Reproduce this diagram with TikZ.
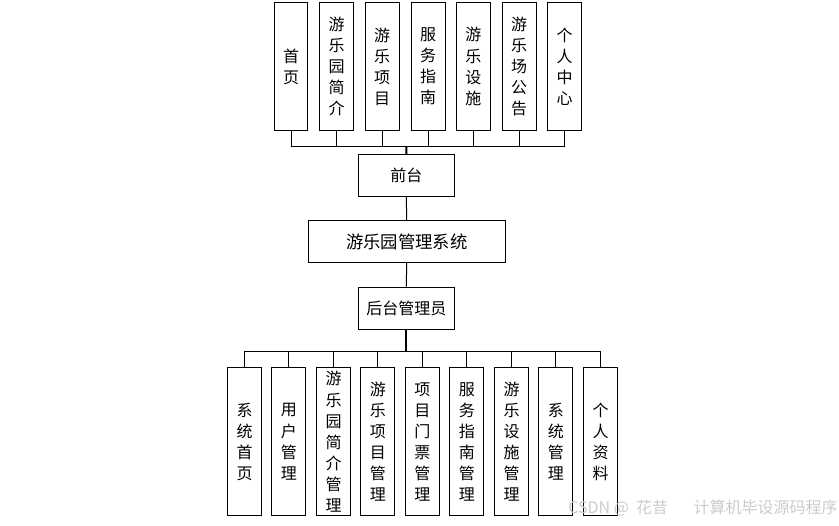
\documentclass[tikz,border=0pt]{standalone}
\usepackage{fontspec}
\setmainfont{Noto Sans CJK SC}
\newfontfamily\cjk{Noto Sans CJK SC}
\begin{document}
\begin{tikzpicture}[x=0.75pt,y=-0.75pt,
  box/.style={draw=black,line width=0.75pt,inner sep=0pt,align=center,
    font=\cjk\fontsize{12}{15.8}\selectfont},
  vbox/.style={box,minimum width=25.3pt,minimum height=95.3pt},
  lbox/.style={box,minimum width=25.7pt,minimum height=111.2pt},
  hbox/.style={box,minimum width=72pt,minimum height=31.6pt},
  conn/.style={draw=black,line width=0.75pt},
  thickconn/.style={draw=black,line width=1.5pt}]
\useasboundingbox (0,0) rectangle (839,525);
\fill[white] (0,0) rectangle (839,525);
% top row
\node[vbox] (t1) at (291,66.5) {首\\页};
\node[vbox] (t2) at (336.7,66.5) {游\\乐\\园\\简\\介};
\node[vbox] (t3) at (382.2,66.5) {游\\乐\\项\\目};
\node[vbox] (t4) at (428.2,66.5) {服\\务\\指\\南};
\node[vbox] (t5) at (473.3,66.5) {游\\乐\\设\\施};
\node[vbox] (t6) at (519.2,66.5) {游\\乐\\场\\公\\告};
\node[vbox] (t7) at (564.7,66.5) {个\\人\\中\\心};
% middle
\node[hbox] (qt) at (406.3,175.5) {前台};
\node[box,minimum width=147.5pt,minimum height=31.5pt,font=\cjk\fontsize{13}{15.8}\selectfont] (sys) at (406.7,241.7) {游乐园管理系统};
\node[hbox] (ht) at (406.3,308.3) {后台管理员};
% bottom row
\node[lbox] (b1) at (244.5,441.8) {系\\统\\首\\页};
\node[lbox] (b2) at (288.8,441.8) {用\\户\\管\\理};
\node[lbox] (b3) at (333.5,441.8) {游\\乐\\园\\简\\介\\管\\理};
\node[lbox] (b4) at (377.8,441.8) {游\\乐\\项\\目\\管\\理};
\node[lbox] (b5) at (422.3,441.8) {项\\目\\门\\票\\管\\理};
\node[lbox] (b6) at (466.8,441.8) {服\\务\\指\\南\\管\\理};
\node[lbox] (b7) at (511.5,441.8) {游\\乐\\设\\施\\管\\理};
\node[lbox] (b8) at (555.8,441.8) {系\\统\\管\\理};
\node[lbox] (b9) at (600.5,441.8) {个\\人\\资\\料};
% connectors top
\coordinate (tb) at (406.5,146);
\foreach \i in {1,...,7} {\draw[conn] (t\i.south) -- (t\i.south |- tb);}
\draw[conn] (t1.south |- tb) -- (t7.south |- tb);
\draw[thickconn] (tb) -- (qt.north);
\draw[conn] (qt.south) -- (sys.north);
\draw[conn] (sys.south) -- (ht.north);
% connectors bottom
\coordinate (bb) at (406.3,351);
\draw[thickconn] (ht.south) -- (bb);
\draw[conn] (b1.north |- bb) -- (b9.north |- bb);
\foreach \i in {1,...,9} {\draw[conn] (b\i.north |- bb) -- (b\i.north);}
% watermark
\node[anchor=east,inner sep=0pt,text=gray!40,font=\cjk\fontsize{12}{14}\selectfont] (wm) at (838,508) {CSDN\ @\ \ 花昔\hspace{1.6em}计算机毕设源码程序};
\end{tikzpicture}
\end{document}
